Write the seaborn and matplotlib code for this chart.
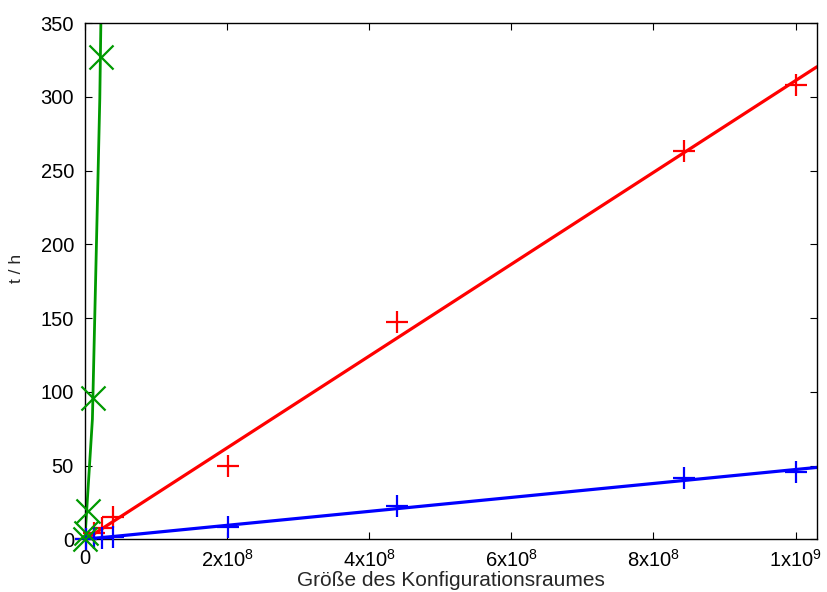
import numpy as np
import pandas as pd
import matplotlib
matplotlib.use("Agg")
import matplotlib.pyplot as plt
import seaborn as sns

# Problem sizes (size of the configuration space) and run times in hours
size_rb = [2e6, 1.3e7, 2.4e7, 4.0e7, 2.01e8, 4.39e8, 8.43e8, 1.0e9]
time_red = [0.5, 4.0, 8.0, 15.0, 50.0, 147.0, 263.0, 308.0]
time_blue = [0.1, 0.6, 1.0, 1.8, 8.4, 22.6, 41.4, 45.5]

size_green = [1e5, 1.0e6, 4.5e6, 1.14e7, 2.18e7]
time_green = [0.5, 4.0, 19.5, 96.0, 327.0]

x_ticks = [0, 2e8, 4e8, 6e8, 8e8, 1e9]
x_ticklabels = ["0", r"$\mathregular{2x10^{8}}$", r"$\mathregular{4x10^{8}}$",
                r"$\mathregular{6x10^{8}}$", r"$\mathregular{8x10^{8}}$",
                r"$\mathregular{1x10^{9}}$"]
y_ticks = [0, 50, 100, 150, 200, 250, 300, 350]

RED, BLUE, GREEN = "#ff0000", "#0000ff", "#009900"

sns.set_style("ticks")
plt.rcParams["font.family"] = ["Liberation Sans", "DejaVu Sans"]
plt.rcParams["mathtext.fontset"] = "custom"
plt.rcParams["mathtext.rm"] = "Liberation Sans"

df_red = pd.DataFrame({"x": size_rb, "y": time_red})
df_blue = pd.DataFrame({"x": size_rb, "y": time_blue})
df_green = pd.DataFrame({"x": size_green, "y": time_green})

fig = plt.figure(figsize=(8.27, 5.92), dpi=100)
ax = fig.add_axes([0.1028, 0.089, 0.885, 0.872])
ax.set_xlim(0, 1.03e9)
ax.set_ylim(0, 350)

# fitted curves, extended over the whole axis range
sns.regplot(data=df_red, x="x", y="y", ax=ax, scatter=False, ci=None,
            truncate=False, color=RED, line_kws={"lw": 2.3})
sns.regplot(data=df_blue, x="x", y="y", ax=ax, scatter=False, ci=None,
            truncate=False, color=BLUE, line_kws={"lw": 2.3})
sns.regplot(data=df_green, x="x", y="y", ax=ax, scatter=False, ci=None,
            order=2, truncate=False, color=GREEN, line_kws={"lw": 2.0})

# measured points
sns.scatterplot(data=df_red, x="x", y="y", ax=ax, marker="+", s=260,
                color=RED, linewidth=1.6, clip_on=False, zorder=5)
sns.scatterplot(data=df_blue, x="x", y="y", ax=ax, marker="+", s=260,
                color=BLUE, linewidth=1.6, clip_on=False, zorder=5)
sns.scatterplot(data=df_green, x="x", y="y", ax=ax, marker="x", s=300,
                color=GREEN, linewidth=1.6, clip_on=False, zorder=5)

ax.set_xlim(0, 1.03e9)
ax.set_ylim(0, 350)
ax.set_xticks(x_ticks)
ax.set_xticklabels(x_ticklabels)
ax.set_yticks(y_ticks)
ax.tick_params(direction="in", length=5, width=0.8, top=True, right=True,
               labelsize=14.5, colors="black")
ax.tick_params(axis="y", pad=8)
ax.tick_params(axis="x", pad=7)
for sp in ax.spines.values():
    sp.set_visible(True)
    sp.set_linewidth(1.0)
    sp.set_color("black")

ax.set_xlabel("Größe des Konfigurationsraumes", fontsize=15, labelpad=0)
ax.set_ylabel("t / h", fontsize=12.5)
ax.yaxis.set_label_coords(-0.084, 0.525)

fig.savefig("out.png", dpi=100)
